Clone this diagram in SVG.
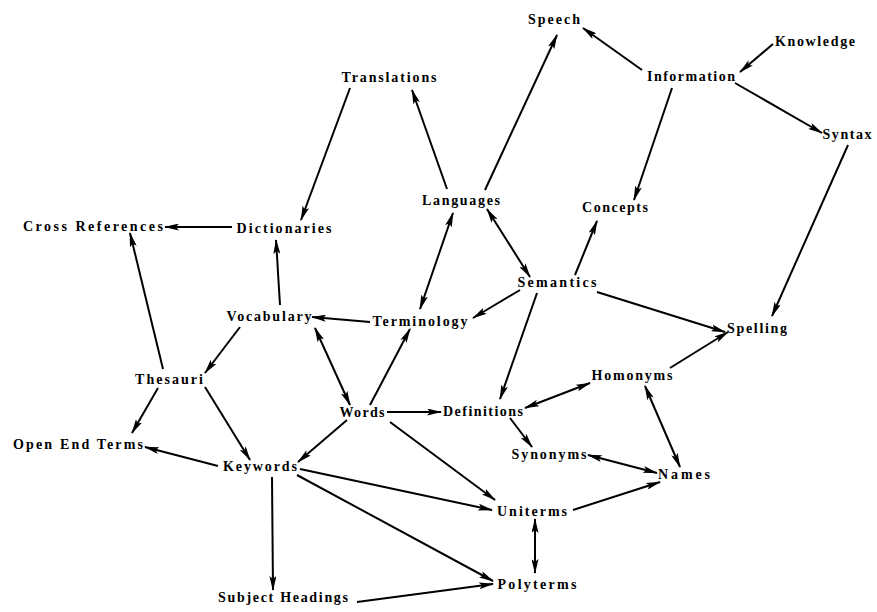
<svg xmlns="http://www.w3.org/2000/svg" width="877" height="612" viewBox="0 0 877 612">
<style>
text{font-family:"Liberation Serif","DejaVu Serif",serif;font-weight:bold;font-size:14px;fill:#000;text-anchor:middle}
.e line{stroke:#000;stroke-width:2;fill:none}
.a{marker-end:url(#ah)}
.b{marker-start:url(#ah);marker-end:url(#ah)}
</style>
<defs>
<marker id="ah" viewBox="0 0 15 7" refX="14" refY="3.5" markerWidth="15" markerHeight="7" markerUnits="userSpaceOnUse" orient="auto-start-reverse">
<path d="M0,0 L15,3.5 L0,7 L3,3.5 Z" fill="#000"/>
</marker>
</defs>
<rect width="877" height="612" fill="#fff"/>
<g id="connectors" class="e">
<line class="a" x1="642" y1="70" x2="583" y2="28"/>
<line class="a" x1="773" y1="44" x2="740" y2="72"/>
<line class="a" x1="735" y1="83" x2="822" y2="133"/>
<line class="a" x1="672" y1="88" x2="634" y2="200"/>
<line class="a" x1="485" y1="190" x2="557" y2="35"/>
<line class="a" x1="447" y1="189" x2="412" y2="90"/>
<line class="a" x1="350" y1="88" x2="301" y2="220"/>
<line class="a" x1="232" y1="227" x2="165" y2="227"/>
<line class="a" x1="163" y1="369" x2="130" y2="233"/>
<line class="a" x1="280" y1="305" x2="276" y2="240"/>
<line class="b" x1="487" y1="209" x2="530" y2="277"/>
<line class="a" x1="575" y1="275" x2="597" y2="221"/>
<line class="b" x1="453" y1="213" x2="420" y2="309"/>
<line class="a" x1="520" y1="290" x2="473" y2="318"/>
<line class="a" x1="370" y1="322" x2="312" y2="317"/>
<line class="a" x1="597" y1="292" x2="725" y2="332"/>
<line class="a" x1="848" y1="145" x2="772" y2="316"/>
<line class="a" x1="537" y1="293" x2="500" y2="399"/>
<line class="a" x1="670" y1="368" x2="728" y2="332"/>
<line class="b" x1="590" y1="383" x2="525" y2="408"/>
<line class="b" x1="645" y1="386" x2="680" y2="467"/>
<line class="a" x1="510" y1="418" x2="532" y2="447"/>
<line class="b" x1="588" y1="455" x2="657" y2="473"/>
<line class="a" x1="573" y1="510" x2="660" y2="482"/>
<line class="b" x1="535" y1="519" x2="535" y2="573"/>
<line class="b" x1="315" y1="328" x2="350" y2="405"/>
<line class="a" x1="370" y1="405" x2="410" y2="329"/>
<line class="a" x1="387" y1="412" x2="441" y2="412"/>
<line class="a" x1="347" y1="420" x2="298" y2="462"/>
<line class="a" x1="390" y1="422" x2="495" y2="500"/>
<line class="a" x1="300" y1="469" x2="492" y2="510"/>
<line class="a" x1="297" y1="475" x2="493" y2="581"/>
<line class="a" x1="272" y1="477" x2="273" y2="590"/>
<line class="a" x1="357" y1="602" x2="493" y2="584"/>
<line class="a" x1="218" y1="466" x2="145" y2="447"/>
<line class="a" x1="158" y1="388" x2="132" y2="433"/>
<line class="a" x1="205" y1="387" x2="250" y2="460"/>
<line class="a" x1="240" y1="327" x2="205" y2="373"/>
</g>
<g id="speech"><text x="554" y="24" textLength="52" lengthAdjust="spacing">Speech</text></g>
<g id="knowledge"><text x="815" y="46" textLength="80" lengthAdjust="spacing">Knowledge</text></g>
<g id="information"><text x="691" y="81" textLength="88" lengthAdjust="spacing">Information</text></g>
<g id="syntax"><text x="847" y="139" textLength="49" lengthAdjust="spacing">Syntax</text></g>
<g id="translations"><text x="389" y="82" textLength="95" lengthAdjust="spacing">Translations</text></g>
<g id="concepts"><text x="615" y="212" textLength="66" lengthAdjust="spacing">Concepts</text></g>
<g id="languages"><text x="461" y="205" textLength="78" lengthAdjust="spacing">Languages</text></g>
<g id="cross-references"><text x="93" y="231" textLength="140" lengthAdjust="spacing">Cross References</text></g>
<g id="dictionaries"><text x="284" y="233" textLength="95" lengthAdjust="spacing">Dictionaries</text></g>
<g id="semantics"><text x="557" y="287" textLength="79" lengthAdjust="spacing">Semantics</text></g>
<g id="vocabulary"><text x="269" y="321" textLength="85" lengthAdjust="spacing">Vocabulary</text></g>
<g id="terminology"><text x="420" y="326" textLength="95" lengthAdjust="spacing">Terminology</text></g>
<g id="spelling"><text x="757" y="333" textLength="60" lengthAdjust="spacing">Spelling</text></g>
<g id="thesauri"><text x="169" y="384" textLength="68" lengthAdjust="spacing">Thesauri</text></g>
<g id="homonyms"><text x="632" y="380" textLength="81" lengthAdjust="spacing">Homonyms</text></g>
<g id="words"><text x="362" y="417" textLength="45" lengthAdjust="spacing">Words</text></g>
<g id="definitions"><text x="483" y="416" textLength="80" lengthAdjust="spacing">Definitions</text></g>
<g id="open-end-terms"><text x="78" y="449" textLength="130" lengthAdjust="spacing">Open End Terms</text></g>
<g id="synonyms"><text x="549" y="459" textLength="75" lengthAdjust="spacing">Synonyms</text></g>
<g id="keywords"><text x="260" y="471" textLength="74" lengthAdjust="spacing">Keywords</text></g>
<g id="names"><text x="684" y="479" textLength="52" lengthAdjust="spacing">Names</text></g>
<g id="uniterms"><text x="532" y="516" textLength="70" lengthAdjust="spacing">Uniterms</text></g>
<g id="polyterms"><text x="537" y="589" textLength="79" lengthAdjust="spacing">Polyterms</text></g>
<g id="subject-headings"><text x="283" y="602" textLength="130" lengthAdjust="spacing">Subject Headings</text></g>
</svg>
